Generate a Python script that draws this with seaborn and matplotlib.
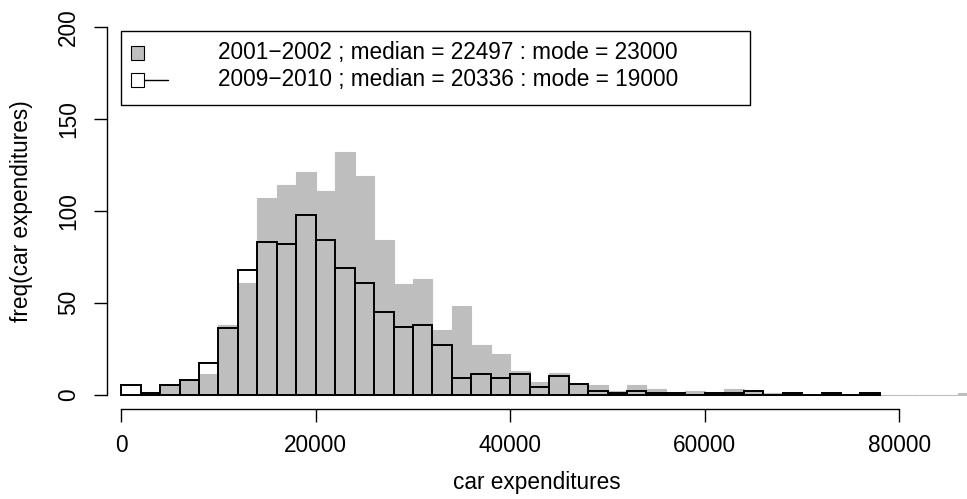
import numpy as np
import pandas as pd
import matplotlib
matplotlib.use("Agg")
import matplotlib.pyplot as plt
import seaborn as sns
from matplotlib.patches import Rectangle
from matplotlib.lines import Line2D

# ---- data (bin counts, bin width 2000) ----
bin_width = 2000
edges_2001 = list(range(0, 88000 + bin_width, bin_width))   # 0 .. 88000
edges_2009 = list(range(0, 78000 + bin_width, bin_width))   # 0 .. 78000
counts_2001 = [0, 0, 5, 8, 11, 38, 61, 107, 114, 121, 111, 132, 119, 84, 60, 63,
               35, 48, 27, 22, 13, 7, 12, 6, 5, 2, 5, 3, 1, 2, 1, 3, 2, 1, 1, 0,
               1, 0, 1, 0, 0, 0, 0, 1]
counts_2009 = [5, 1, 5, 8, 17, 36, 68, 83, 82, 98, 84, 69, 61, 45, 37, 38,
               27, 9, 11, 9, 11, 4, 10, 6, 2, 1, 2, 1, 1, 0, 1, 1, 2, 0, 1, 0,
               1, 0, 1]
label_2001 = "2001\u22122002 ; median = 22497 : mode = 23000"
label_2009 = "2009\u22122010 ; median = 20336 : mode = 19000"
x_label = "car expenditures"
y_label = "freq(car expenditures)"
x_ticks = [0, 20000, 40000, 60000, 80000]
y_ticks = [0, 50, 100, 150, 200]

df1 = pd.DataFrame({"x": [e + bin_width / 2 for e in edges_2001[:-1]], "w": counts_2001})
df2 = pd.DataFrame({"x": [e + bin_width / 2 for e in edges_2009[:-1]], "w": counts_2009})

# ---- style ----
sns.set_theme(style="white")
plt.rcParams["font.family"] = ["Liberation Sans", "DejaVu Sans"]
plt.rcParams["text.color"] = "black"
FS = 16.3

W, H = 967, 499
fig = plt.figure(figsize=(W / 100, H / 100), dpi=100)

def fx(px):
    return px / W

def fy(py):
    return 1 - py / H

ax_l, ax_r, ax_t, ax_b = 106.7, 967.0, 12.6, 409.3
ax = fig.add_axes([fx(ax_l), fy(ax_b), fx(ax_r - ax_l), (ax_b - ax_t) / H])

GRAY = "#BEBEBE"
sns.histplot(data=df1, x="x", weights="w", bins=edges_2001, color=GRAY,
             edgecolor=GRAY, linewidth=0.8, alpha=1, ax=ax)
sns.histplot(data=df2, x="x", weights="w", bins=edges_2009, fill=False,
             color="black", linewidth=1.4, ax=ax)

ax.set_xlim(-1491, 86955)
ax.set_ylim(-8, 208)
ax.set_xticks(x_ticks)
ax.set_yticks(y_ticks)
ax.set_xticklabels([str(v) for v in x_ticks], fontsize=FS)
ax.set_yticklabels([str(v) for v in y_ticks], fontsize=FS, rotation=90, va="center")
ax.set_xlabel("")
ax.set_ylabel("")
for s in ["top", "right"]:
    ax.spines[s].set_visible(False)
for s in ["left", "bottom"]:
    ax.spines[s].set_color("black")
    ax.spines[s].set_linewidth(1.0)
ax.spines["left"].set_bounds(0, 200)
ax.spines["bottom"].set_bounds(0, 80000)
ax.tick_params(axis="both", direction="out", length=9.1, width=1.0,
               color="black", labelcolor="black", bottom=True, left=True)
ax.tick_params(axis="x", pad=9)
ax.tick_params(axis="y", pad=10)
ax.grid(False)

fig.text(fx(537), fy(483), x_label, ha="center", va="center", fontsize=FS, color="black")
fig.text(fx(22), fy(211), y_label, ha="center", va="center", fontsize=FS,
         rotation=90, color="black")

# ---- legend (R style) ----
lx0, lx1, ly0, ly1 = 121, 750, 31, 105
fig.patches.append(Rectangle((fx(lx0), fy(ly1)), fx(lx1 - lx0), (ly1 - ly0) / H,
                             transform=fig.transFigure, facecolor="white",
                             edgecolor="black", linewidth=1.0, zorder=5))
sq = 13
rows = [53, 80]
fig.patches.append(Rectangle((fx(137 - sq / 2), fy(rows[0] + sq / 2)), fx(sq), sq / H,
                             transform=fig.transFigure, facecolor=GRAY,
                             edgecolor="black", linewidth=0.8, zorder=6))
fig.lines.append(Line2D([fx(143), fx(168)], [fy(rows[1]), fy(rows[1])],
                        transform=fig.transFigure, color="black", linewidth=1.0,
                        zorder=6))
fig.patches.append(Rectangle((fx(137 - sq / 2), fy(rows[1] + sq / 2)), fx(sq), sq / H,
                             transform=fig.transFigure, facecolor="white",
                             edgecolor="black", linewidth=0.8, zorder=7))
fig.text(fx(218), fy(rows[0]), label_2001, ha="left", va="center", fontsize=FS,
         color="black", zorder=8)
fig.text(fx(218), fy(rows[1]), label_2009, ha="left", va="center", fontsize=FS,
         color="black", zorder=8)

fig.savefig("out.png", dpi=100, facecolor="white")
